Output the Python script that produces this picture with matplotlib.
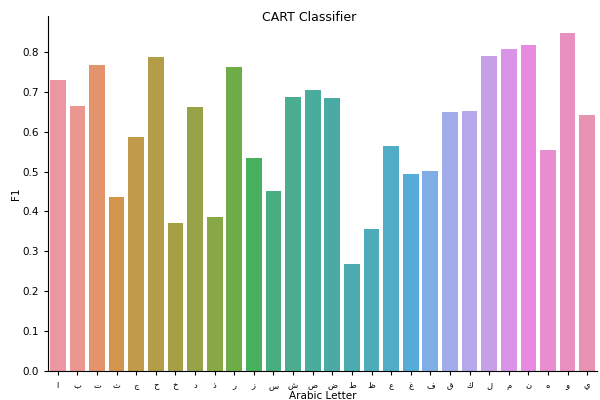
import numpy as np
import pandas as pd
import matplotlib
matplotlib.use("Agg")
import matplotlib.pyplot as plt
import seaborn as sns

# Arabic letters and F1 scores
letters = ["ا", "ب", "ت", "ث", "ج", "ح", "خ", "د", "ذ", "ر", "ز", "س", "ش", "ص",
           "ض", "ط", "ظ", "ع", "غ", "ف", "ق", "ك", "ل", "م", "ن", "ه", "و", "ي"]
f1 = [0.730, 0.664, 0.767, 0.435, 0.586, 0.787, 0.370, 0.662, 0.385, 0.762,
      0.533, 0.450, 0.687, 0.704, 0.684, 0.267, 0.355, 0.564, 0.493, 0.501,
      0.649, 0.651, 0.790, 0.808, 0.818, 0.553, 0.848, 0.642]

df = pd.DataFrame({"Arabic Letter": letters, "F1": f1})

fig = plt.figure(figsize=(6, 4), dpi=100)
ax = fig.add_axes([0.08, 0.0725, 0.915, 0.888])

# old seaborn default for many categories: husl with l=.7
colors = sns.husl_palette(len(letters), l=.7)
sns.barplot(data=df, x="Arabic Letter", y="F1", hue="Arabic Letter",
            palette=colors, legend=False, ax=ax)

sns.despine(ax=ax)
ax.tick_params(axis="x", labelsize=6, length=3, pad=4)
ax.tick_params(axis="y", labelsize=7.5, length=3)
ax.set_xlabel("Arabic Letter", fontsize=7.5, labelpad=1)
ax.set_ylabel("F1", fontsize=7.5, labelpad=1)
ax.set_xlim(-0.5, len(letters) - 0.5)

fig.text(0.515, 0.948, "CART Classifier", ha="center", fontsize=9)

plt.savefig("out.png", dpi=100)
